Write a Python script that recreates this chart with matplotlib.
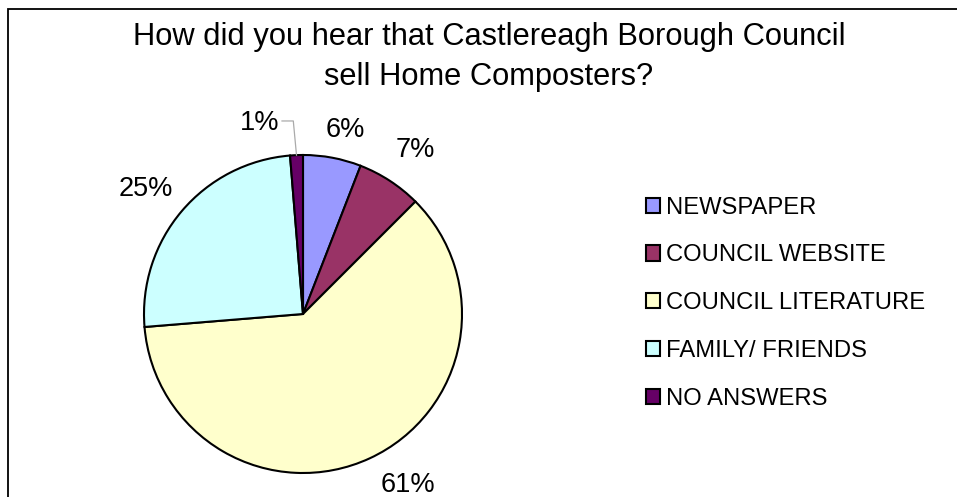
import matplotlib
matplotlib.use("Agg")
import matplotlib.pyplot as plt
from matplotlib.patches import Rectangle
from matplotlib.lines import Line2D
import numpy as np

plt.rcParams['font.family'] = ['Liberation Sans', 'DejaVu Sans']

categories = ["NEWSPAPER", "COUNCIL WEBSITE", "COUNCIL LITERATURE", "FAMILY/ FRIENDS", "NO ANSWERS"]
values = [5.9, 6.6, 61.2, 25.0, 1.3]
colors = ["#9999FF", "#993366", "#FFFFCC", "#CCFFFF", "#660066"]
title_lines = ["How did you hear that Castlereagh Borough Council", "sell Home Composters?"]

W, H = 957, 497
fig = plt.figure(figsize=(W / 100, H / 100), dpi=100)

# chart frame (cut off at right/bottom as in reference)
fig.patches.append(Rectangle((8 / W, -0.1), 1.2, (H - 9) / H + 0.1, transform=fig.transFigure,
                             fill=False, edgecolor="black", linewidth=1.3))

R = 159.0
cx, cy = 303.0, H - 314.0
L = 1.5
side = 2 * L * R
ax = fig.add_axes([(cx - side / 2) / W, (cy - side / 2) / H, side / W, side / H])

wedges, texts = ax.pie(values, colors=colors, startangle=90, counterclock=False,
                       radius=1.0, labels=[f"{v:.0f}%" for v in values],
                       labeldistance=1.2,
                       wedgeprops=dict(edgecolor="black", linewidth=1.5),
                       textprops=dict(fontsize=19.5))
ax.set_xlim(-L, L)
ax.set_ylim(-L, L)
ax.set_aspect("equal")
ax.axis("off")

# fine-tune label placement per slice (distance and angle offset, degrees ccw)
dists = [1.187, 1.249, 1.26, 1.265, 1.25]
offs = [-2.2, -1.2, 6.6, 1.9, 0.0]
for w, t, d, o in zip(wedges, texts, dists, offs):
    ang = np.deg2rad((w.theta1 + w.theta2) / 2 + o)
    t.set_position((d * np.cos(ang), d * np.sin(ang)))
    t.set_ha("center")
    t.set_va("center")
    t.set_clip_on(False)

# small slice: label placed to the left with a leader line
w = wedges[-1]
ang = np.deg2rad((w.theta1 + w.theta2) / 2)
px, py = np.cos(ang), np.sin(ang)
texts[-1].set_position((-0.274, 1.204))
ax.add_line(Line2D([-0.132, -0.061, px], [1.214, 1.214, py], color="#AAAAAA", linewidth=0.9))

fig.text(489 / W, 1 - 45 / H, title_lines[0], ha="center", va="baseline", fontsize=22.2)
fig.text(489 / W, 1 - 85 / H, title_lines[1], ha="center", va="baseline", fontsize=22.2)

leg = fig.legend(wedges, categories, loc="upper left", bbox_to_anchor=(646 / W, 1 - 196.5 / H),
                 frameon=False, fontsize=17.1, handlelength=0.6, handleheight=0.6,
                 handletextpad=0.24, labelspacing=1.09, borderaxespad=0, borderpad=0)
for hnd in leg.legend_handles:
    hnd.set_linewidth(1.5)

fig.savefig("out.png", dpi=100)
